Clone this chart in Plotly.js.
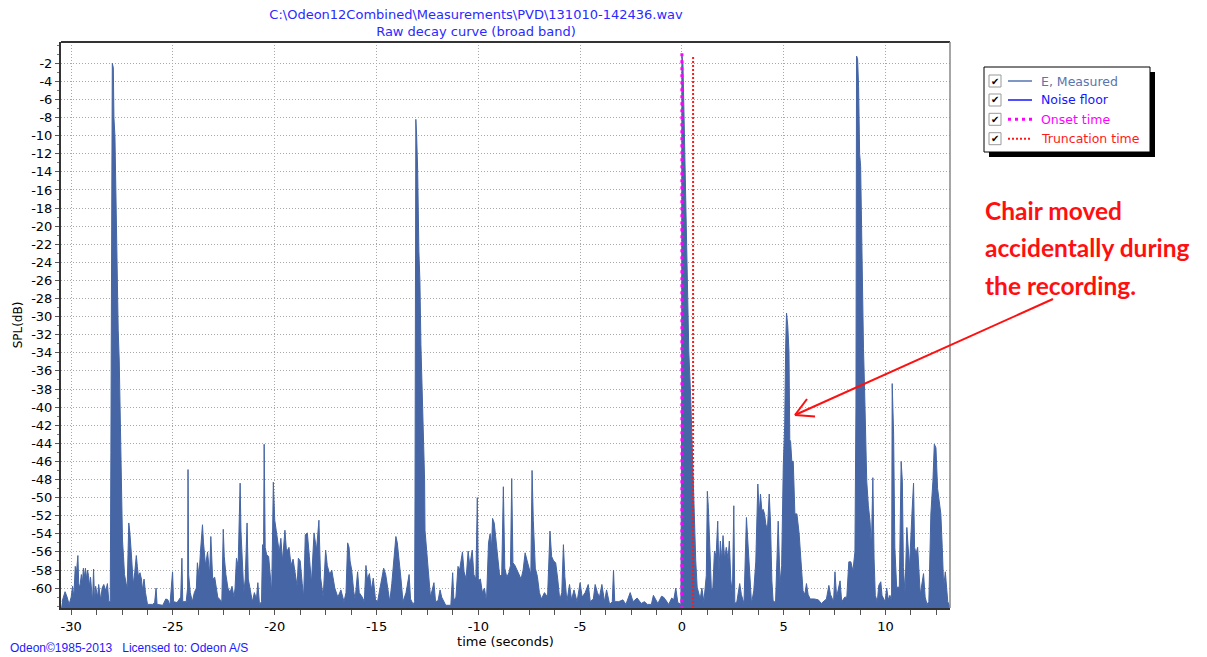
<!DOCTYPE html>
<html>
<head>
<meta charset="utf-8">
<script src="https://cdn.plot.ly/plotly-3.0.1.min.js"></script>
<style>
html,body{margin:0;padding:0;background:#fff;}
#chart{width:1207px;height:657px;}
</style>
</head>
<body>
<div id="chart"></div>
<script>
// ---- Data ----
const timeSec = [
-30.45,-30.3,-30.2,-30.1,-30.0,-29.93,-29.87,-29.8,-29.75,-29.7,-29.67,-29.63,-29.58,-29.5,-29.45,-29.4,-29.35,-29.3,-29.25,-29.2,-29.15,-29.1,-29.05,-29.0,-28.95,-28.9,-28.85,-28.8,-28.7,-28.65,-28.55,-28.48,-28.4,-28.3,-28.22,-28.15,-28.08,
-28.05,-28.02,-27.98,-27.93,-27.9,-27.85,-27.8,-27.74,-27.69,-27.64,-27.6,-27.55,-27.52,-27.48,-27.43,-27.38,-27.3,-27.25,-27.17,-27.12,-27.05,-27.0,-26.95,-26.88,-26.8,-26.75,-26.7,-26.62,-26.55,-26.5,-26.42,-26.35,-26.25,-26.0,-25.9,-25.83,-25.78,-25.5,-25.35,-25.25,-25.15,-25.02,-24.97,-24.8,-24.62,-24.56,-24.52,-24.35,-24.28,-24.26,-24.23,-24.15,-24.05,-23.95,-23.85,-23.8,-23.72,-23.65,-23.55,-23.5,-23.4,-23.3,-23.2,-23.14,-23.05,-22.95,-22.8,-22.6,-22.53,-22.48,-22.4,-22.3,-22.2,-22.1,-22.0,-21.95,-21.88,-21.8,-21.7,-21.66,-21.6,-21.52,-21.45,-21.36,-21.3,-21.2,-21.1,-21.0,-20.9,-20.83,-20.75,-20.65,-20.6,-20.55,-20.52,-20.47,-20.4,-20.3,-20.22,-20.15,-20.07,-20.0,-19.93,-19.85,-19.78,-19.7,-19.62,-19.5,-19.42,-19.3,-19.2,-19.1,-19.0,-18.9,-18.84,-18.75,-18.65,-18.58,-18.5,-18.4,-18.3,-18.2,-18.07,-17.95,-17.83,-17.75,-17.62,-17.5,-17.42,-17.3,-17.2,-17.05,-16.9,-16.75,-16.6,-16.5,-16.42,-16.35,-16.3,-16.22,-16.12,-16.05,-15.93,-15.85,-15.7,-15.6,-15.52,-15.45,-15.35,-15.25,-15.16,-15.05,-14.95,-14.85,-14.75,-14.65,-14.55,-14.45,-14.35,-14.25,-14.15,-14.05,-13.98,-13.9,-13.8,-13.7,-13.55,-13.4,-13.33,-13.2,-13.13,
-13.11,-13.09,-13.07,-13.03,-12.98,-12.92,-12.87,-12.82,-12.76,-12.69,-12.64,-12.62,-12.55,-12.5,-12.42,-12.35,-12.18,-12.1,-11.98,-11.88,-11.8,-11.6,-11.35,-11.26,-11.2,-11.1,-11.0,-10.92,-10.85,-10.78,-10.7,-10.6,-10.5,-10.42,-10.3,-10.22,-10.12,-10.05,-10.0,-9.9,-9.8,-9.7,-9.6,-9.5,-9.42,-9.35,-9.3,-9.22,-9.15,-9.05,-8.95,-8.85,-8.77,-8.7,-8.6,-8.5,-8.42,-8.36,-8.3,-8.2,-8.1,-8.0,-7.9,-7.8,-7.7,-7.6,-7.5,-7.42,-7.36,-7.3,-7.2,-7.1,-7.0,-6.9,-6.75,-6.6,-6.48,-6.4,-6.3,-6.2,-6.1,-6.0,-5.9,-5.82,-5.75,-5.65,-5.52,-5.42,-5.3,-5.15,-5.0,-4.9,-4.75,-4.6,-4.5,-4.35,-4.26,-4.15,-4.05,-3.93,-3.8,-3.7,-3.55,-3.42,-3.36,-3.3,-3.1,-2.9,-2.75,-2.54,-2.4,-2.2,-2.0,-1.84,-1.7,-1.5,-1.4,-1.3,-1.18,-1.0,-0.9,-0.8,-0.65,-0.5,-0.4,-0.3,-0.2,-0.05,
-0.01,0.0,0.05,0.11,0.16,0.22,0.28,0.34,0.43,0.51,0.58,0.62,0.68,0.75,0.82,0.9,0.98,1.08,1.2,1.25,1.3,1.38,1.45,1.52,1.6,1.68,1.76,1.82,1.89,1.96,2.02,2.1,2.18,2.27,2.33,2.4,2.48,2.55,2.6,2.7,2.84,2.92,3.05,3.17,3.25,3.33,3.42,3.53,3.63,3.73,3.8,3.86,3.93,3.99,4.06,4.12,4.2,4.29,4.35,4.42,4.48,4.6,4.73,4.82,4.9,
4.98,5.05,5.1,5.14,5.2,5.26,5.3,5.34,5.4,5.47,5.55,5.65,5.76,5.83,5.95,6.04,6.12,6.2,6.3,6.5,6.7,6.85,7.1,7.22,7.3,7.45,7.52,7.6,7.77,7.85,8.0,8.1,8.2,8.3,8.4,8.5,
8.55,8.58,8.63,8.68,8.73,8.78,8.83,8.87,8.92,8.97,9.02,9.08,9.16,9.24,9.31,9.38,9.44,9.5,9.6,9.67,9.77,9.83,9.98,10.06,10.14,10.22,10.3,10.33,10.4,10.46,10.55,10.68,10.77,10.83,10.88,10.96,11.05,11.12,11.18,11.3,11.38,11.43,11.5,11.58,11.71,11.87,11.95,12.04,12.13,12.23,12.33,12.4,12.48,12.56,12.64,12.72,12.79,12.86,12.94,12.99,13.06,13.15
];
const splDb = [
-61.5,-60.4,-61.0,-61.8,-61.0,-59.8,-61.0,-57.6,-58.5,-57.0,-56.4,-59.5,-60.0,-58.5,-59.5,-57.8,-58.8,-57.8,-59.0,-58.0,-58.6,-59.8,-58.8,-60.2,-61.5,-57.9,-61.5,-59.8,-61.0,-59.6,-61.3,-60.0,-59.6,-60.3,-59.5,-61.5,-61.5,
-45,-20,-2.0,-2.5,-8,-10.1,-18.2,-23.7,-31.5,-34.8,-40.5,-45.5,-50.6,-54.7,-56.5,-58.5,-59.5,-60.0,-52.8,-53.8,-56.0,-58.0,-59.6,-58.3,-56.4,-57.6,-58.7,-58.3,-59.0,-60.2,-59.0,-60.5,-61.8,-61.8,-61.6,-60.0,-61.8,-61.9,-61.2,-61.3,-61.9,-58.2,-61.5,-61.6,-61.0,-56.7,-61.5,-61.5,-60.0,-46.9,-58.5,-60.5,-61.5,-60.5,-60.0,-57.2,-58.7,-56.0,-53.0,-55.0,-57.5,-56.0,-58.5,-54.3,-59.0,-58.8,-61.0,-61.5,-53.5,-56.5,-58.5,-60.0,-60.5,-59.8,-61.0,-60.0,-56.7,-57.6,-48.4,-53.7,-57.0,-60.5,-59.0,-52.8,-59.0,-60.5,-61.5,-60.5,-61.2,-59.4,-61.8,-61.5,-55.2,-56.0,-44.1,-55.5,-56.3,-56.5,-58.5,-60.5,-48.3,-52.5,-53.6,-55.0,-56.0,-54.5,-57.0,-53.6,-56.0,-55.5,-57.5,-56.8,-58.5,-59.8,-56.7,-57.0,-59.5,-61.0,-54.1,-53.9,-56.5,-59.5,-53.9,-55.8,-52.5,-58.8,-61.0,-55.8,-57.5,-58.5,-58.0,-60.0,-61.0,-60.2,-61.5,-60.5,-55.0,-55.5,-57.0,-58.0,-60.4,-61.2,-58.2,-60.5,-61.0,-61.5,-57.5,-59.0,-58.4,-60.2,-58.9,-61.3,-61.5,-60.2,-59.0,-57.8,-58.5,-60.0,-61.5,-59.5,-57.0,-54.3,-55.0,-56.5,-59.0,-61.5,-60.5,-58.5,-61.2,-61.8,-61.5,
-50,-20,-8.2,-10,-13.8,-22.8,-26.0,-33.1,-38.4,-44.9,-48.0,-53.6,-55.5,-57.2,-60.0,-61.0,-59.4,-61.5,-61.4,-60.2,-61.0,-61.9,-61.9,-58.3,-61.4,-61.0,-57.6,-58.0,-57.0,-56.0,-58.2,-59.0,-55.9,-57.5,-55.8,-58.5,-59.0,-50.0,-59.2,-59.0,-60.5,-60.0,-61.5,-55.0,-54.0,-55.5,-52.3,-52.8,-54.3,-56.5,-58.7,-58.5,-48.8,-57.8,-58.8,-58.3,-57.5,-47.9,-57.2,-57.5,-58.0,-58.7,-59.0,-58.0,-56.1,-57.0,-57.8,-58.5,-47.0,-52.5,-57.8,-58.7,-60.5,-61.2,-60.5,-61.0,-53.7,-56.5,-57.0,-57.2,-59.0,-61.3,-60.5,-55.2,-58.7,-61.5,-59.6,-61.3,-60.2,-61.5,-59.4,-61.0,-60.5,-59.6,-61.5,-61.2,-59.6,-60.5,-61.0,-59.6,-61.5,-60.2,-61.8,-61.5,-58.0,-61.5,-61.5,-61.3,-61.8,-60.5,-61.5,-61.1,-61.7,-61.5,-61.8,-61.8,-60.8,-61.3,-61.7,-60.9,-61.0,-61.3,-61.8,-61.1,-61.3,-60.0,-61.6,-61.8,
-40,-1.0,-2.0,-8.3,-14.5,-22,-29.4,-33.9,-38.8,-45.3,-50,-55.0,-57,-59.9,-60.5,-61.2,-60.0,-61.5,-58.6,-49.3,-51.1,-56.8,-60.3,-60.0,-55.9,-56.5,-52.6,-58.2,-54.8,-57.0,-54.2,-56.8,-55.5,-56.8,-54.8,-59.0,-60.8,-50.9,-61.7,-61.5,-59.5,-60.7,-61.7,-52.2,-55.1,-57.3,-61.7,-60.3,-57.1,-48.5,-51.8,-49.6,-51.5,-51.3,-51.8,-52.9,-53.6,-49.6,-52.6,-59.2,-61.4,-61.6,-52.6,-59.5,-57.5,
-46.5,-42,-33,-29.6,-31,-33.9,-43.6,-43.8,-46.0,-46.0,-51.8,-51.8,-54.0,-56.3,-60.3,-60.7,-59.5,-60.7,-61.2,-61.2,-61.3,-61.7,-61.2,-59.7,-60.7,-61.5,-58.2,-61.0,-59.2,-61.5,-61.0,-61.0,-57.1,-57.1,-58.1,-56.0,
-40,-1.2,-1.5,-4.6,-12,-13.4,-21.5,-26.0,-33.5,-37.7,-42.3,-48.2,-50.9,-52.6,-55.5,-47.8,-56.7,-60.8,-61.5,-59.7,-59.3,-60.8,-61.5,-60.0,-61.3,-60.8,-61.5,-37.4,-43.0,-55.5,-59.9,-59.9,-46.0,-48.2,-57.7,-60.5,-53.3,-55.9,-57.7,-51.8,-48.4,-55.5,-56.2,-55.5,-60.7,-58.4,-61.0,-61.8,-61.5,-51.8,-48.2,-44.1,-44.5,-49.0,-50.4,-51.8,-55.5,-59.9,-58.2,-59.9,-61.5,-62
];
const onsetTime = 0.0;
const truncationTime = 0.55;
const xRange = [-30.5, 13.17];
const yRange = [-62.2, 0.35];
const xTickVals = [-30, -25, -20, -15, -10, -5, 0, 5, 10];
const yTickVals = [-2,-4,-6,-8,-10,-12,-14,-16,-18,-20,-22,-24,-26,-28,-30,-32,-34,-36,-38,-40,-42,-44,-46,-48,-50,-52,-54,-56,-58,-60];
const legendNames = ["E, Measured", "Noise floor", "Onset time", "Truncation time"];
const legendColors = ["#5a74ad", "#1515ff", "#ff00ff", "#ff1a1a"];
const noteLines = ["Chair moved", "accidentally during", "the recording."];

const fillColor = "#4565a4";
const L = 61, R = 950, T = 42, B = 608;
const px2x = p => (p - L) / (R - L);
const px2y = p => (B - p) / (B - T);

const traces = [
  {x: [xRange[0], xRange[1]], y: [yRange[0], yRange[0]], type: 'scatter', mode: 'lines',
   line: {width: 0, color: fillColor}, hoverinfo: 'skip', showlegend: false},
  {x: timeSec, y: splDb, type: 'scatter', mode: 'lines', fill: 'tonexty',
   fillcolor: fillColor, line: {color: fillColor, width: 1}, name: legendNames[0], showlegend: false},
  {x: [onsetTime, onsetTime], y: [-0.9, yRange[0]], type: 'scatter', mode: 'lines',
   line: {color: '#ff00ff', width: 3, dash: '3px,4px'}, name: legendNames[2], showlegend: false},
  {x: [truncationTime, truncationTime], y: [-1.3, yRange[0]], type: 'scatter', mode: 'lines',
   line: {color: '#ff1a1a', width: 2, dash: '2px,2px'}, name: legendNames[3], showlegend: false}
];

const shapes = [];
const annotations = [];
// frame top/right
shapes.push({type:'line', xref:'paper', yref:'paper', x0:0, x1:1, y0:1, y1:1, line:{color:'#333', width:2}});
shapes.push({type:'line', xref:'paper', yref:'paper', x0:1, x1:1, y0:0, y1:1, line:{color:'#888', width:1.5}});

// Legend box with shadow
shapes.push({type:'rect', xref:'paper', yref:'paper', x0:px2x(989), x1:px2x(1155), y0:px2y(157), y1:px2y(72), fillcolor:'#000', line:{width:0}});
shapes.push({type:'rect', xref:'paper', yref:'paper', x0:px2x(984), x1:px2x(1150), y0:px2y(152), y1:px2y(67), fillcolor:'#fff', line:{color:'#000', width:1}});
const rowY = [81, 100, 119.3, 138.7];
const sampleStyles = [
  {color:'#8096c4', width:2, dash:'solid'},
  {color:'#1515ff', width:1.5, dash:'solid'},
  {color:'#ff00ff', width:3, dash:'3px,4px'},
  {color:'#ff1a1a', width:2, dash:'2px,2px'}
];
legendNames.forEach((name, i) => {
  const cy = rowY[i];
  shapes.push({type:'rect', xref:'paper', yref:'paper', x0:px2x(989), x1:px2x(1001), y0:px2y(cy+6), y1:px2y(cy-6), fillcolor:'#fff', line:{color:'#999', width:1}});
  annotations.push({xref:'paper', yref:'paper', x:px2x(995), y:px2y(cy), text:'✔', showarrow:false, xanchor:'center', yanchor:'middle', font:{family:'DejaVu Sans', size:10, color:'#000'}});
  shapes.push({type:'line', xref:'paper', yref:'paper', x0:px2x(1008), x1:px2x(1032), y0:px2y(cy), y1:px2y(cy), line:sampleStyles[i]});
  annotations.push({xref:'paper', yref:'paper', x:px2x(1039), y:px2y(cy), text:name, showarrow:false, xanchor:'left', yanchor:'middle', font:{family:'DejaVu Sans', size:12.5, color:legendColors[i]}});
});

// Note text
const noteY = [210, 247, 285];
noteLines.forEach((t, i) => {
  annotations.push({xref:'paper', yref:'paper', x:px2x(983), y:px2y(noteY[i]), text:'<b>'+t+'</b>', showarrow:false, xanchor:'left', yanchor:'middle', font:{family:'Lato', size:24.5, color:'#ff1010'}});
});
// Arrow (open V head)
const arrowLine = {color:'#ff1010', width:2};
const tipPx = [795, 415];
[[258, 116], [12, 16], [20, -1.5]].forEach(([dx, dy]) => {
  shapes.push({type:'line', xref:'paper', yref:'paper', xsizemode:'pixel', ysizemode:'pixel',
    xanchor:px2x(tipPx[0]), yanchor:px2y(tipPx[1]), x0:0, y0:0, x1:dx, y1:dy, line:arrowLine});
});

// Footer
annotations.push({xref:'paper', yref:'paper', x:px2x(8), y:px2y(648), text:'Odeon©1985-2013   Licensed to: Odeon A/S', showarrow:false, xanchor:'left', yanchor:'middle', font:{family:'Liberation Sans', size:12, color:'#1a1aff'}});

const layout = {
  width: 1207, height: 657,
  margin: {l: L, r: 1207 - R, t: T, b: 657 - B, pad: 0},
  paper_bgcolor: '#fff', plot_bgcolor: '#fff',
  showlegend: false,
  font: {family: 'DejaVu Sans', size: 12, color: '#000'},
  title: {text: 'C:\\Odeon12Combined\\Measurements\\PVD\\131010-142436.wav<br>Raw decay curve (broad band)',
          font: {family: 'DejaVu Sans', size: 13, color: '#2a2aff'},
          xref: 'paper', x: px2x(476), xanchor: 'center', yref: 'container', y: 1 - 19/657, yanchor: 'top'},
  xaxis: {
    range: xRange, tickvals: xTickVals, ticktext: xTickVals.map(String),
    showgrid: true, gridcolor: '#a8a8a8', griddash: '1px,2px', gridwidth: 1,
    zeroline: false, showline: true, linecolor: '#333', linewidth: 2,
    ticks: 'outside', ticklen: 5, tickcolor: '#555', tickwidth: 1,
    minor: {dtick: 1.25, tick0: 0, ticks: 'outside', ticklen: 5, tickcolor: '#555', showgrid: false},
    tickfont: {family: 'DejaVu Sans', size: 13, color: '#000'},
    title: {text: 'time (seconds)', font: {family: 'DejaVu Sans', size: 13, color: '#000'}, standoff: 4},
    automargin: false
  },
  yaxis: {
    range: yRange, tickvals: yTickVals, ticktext: yTickVals.map(String),
    showgrid: true, gridcolor: '#a8a8a8', griddash: '1px,2px', gridwidth: 1,
    zeroline: false, showline: true, linecolor: '#333', linewidth: 2,
    ticks: 'outside', ticklen: 4, tickcolor: '#555', tickwidth: 1,
    minor: {dtick: 1, ticks: 'outside', ticklen: 2, tickcolor: '#777', showgrid: false},
    tickfont: {family: 'DejaVu Sans', size: 13, color: '#000'},
    title: {text: 'SPL(dB)', font: {family: 'DejaVu Sans', size: 12, color: '#000'}, standoff: 6},
    automargin: false
  },
  shapes: shapes,
  annotations: annotations
};

Plotly.newPlot('chart', traces, layout, {displayModeBar: false, staticPlot: true});
</script>
</body>
</html>
